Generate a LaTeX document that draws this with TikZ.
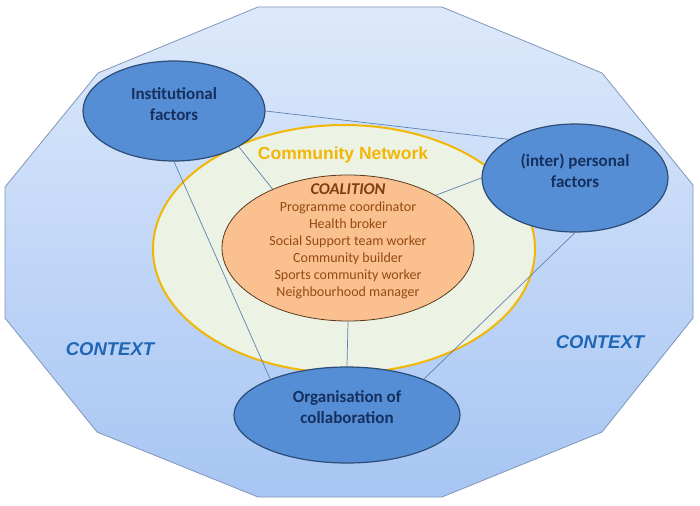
\documentclass[tikz,border=0pt]{standalone}
\usepackage{fontspec}
\setmainfont{Carlito}
\newfontfamily\arialfont{Liberation Sans}
\usetikzlibrary{shapes.geometric}
\definecolor{ctxtop}{HTML}{DDE9FB}
\definecolor{ctxbottom}{HTML}{A7C5F3}
\definecolor{ctxline}{HTML}{8096B8}
\definecolor{ctxtext}{HTML}{1F66B5}
\definecolor{netfill}{HTML}{ECF2E4}
\definecolor{netline}{HTML}{F2B705}
\definecolor{coalfill}{HTML}{FAC090}
\definecolor{coalline}{HTML}{5B3B1E}
\definecolor{coaltext}{HTML}{944A12}
\definecolor{factorblue}{HTML}{558ED5}
\definecolor{factorline}{HTML}{2C4D75}
\definecolor{factortext}{HTML}{16305E}
\definecolor{linkblue}{HTML}{5F82B2}

\begin{document}
\begin{tikzpicture}[x=1pt, y=-1pt,
    factor/.style={ellipse, draw=factorline, line width=1.2pt, fill=factorblue, inner sep=0pt},
    factortxt/.style={font=\fontsize{17}{21}\selectfont\bfseries, text=factortext, align=center},
    contexttxt/.style={font=\arialfont\fontsize{18.5}{22}\selectfont\bfseries\itshape, text=ctxtext},
    link/.style={draw=linkblue, line width=0.7pt}]
  \useasboundingbox (0,0) rectangle (700,505);
  % context polygon
  \shade[top color=ctxtop, bottom color=ctxbottom] (258,7) -- (442,7) -- (602,73) -- (693,185) -- (693,318) -- (602,432) -- (442,497) -- (258,497) -- (97,432) -- (5,318) -- (5,187) -- (98,73) -- cycle;
  \draw[ctxline, line width=0.8pt] (258,7) -- (442,7) -- (602,73) -- (693,185) -- (693,318) -- (602,432) -- (442,497) -- (258,497) -- (97,432) -- (5,318) -- (5,187) -- (98,73) -- cycle;
  \node[contexttxt] (ctxleft) at (110,349) {CONTEXT};
  \node[contexttxt] (ctxright) at (600,342) {CONTEXT};

  % community network and coalition
  \node[ellipse, draw=netline, line width=2pt, fill=netfill, minimum width=382, minimum height=248] (net) at (344,249) {};
  \node[font=\arialfont\fontsize{17.5}{21}\selectfont\bfseries, text=netline] (nettitle) at (343,155) {Community Network};

  % factors
  \node[factor, minimum width=182, minimum height=100] (inst) at (174,111) {};
  \node[factor, minimum width=186, minimum height=108] (inter) at (575,178) {};
  \node[factor, minimum width=226, minimum height=96] (org) at (347,415) {};

  \node[ellipse, draw=coalline, line width=0.8pt, fill=coalfill, minimum width=252, minimum height=146] (coal) at (348,248) {};

  % links
  \draw[link] (inst.east) -- (inter.north west);
  \draw[link] (inst.south east) -- (coal.142);
  \draw[link] (inst.south) -- (org.155);
  \draw[link] (inter.west) -- (coal.31);
  \draw[link] (inter.south) -- (org.25);
  \draw[link] (coal.south) -- (org.north);

  \node[font=\fontsize{16.5}{20}\selectfont\bfseries\itshape, text=coaltext!85!black] (coaltitle) at (348,189) {COALITION};
  \node[font=\fontsize{14}{17}\selectfont, text=coaltext, align=center] (roles) at (348,250.5) {Programme coordinator\\Health broker\\Social Support team worker\\Community builder\\Sports community worker\\Neighbourhood manager};

  \node[factortxt] (insttxt) at (174,104) {Institutional\\factors};
  \node[factortxt] (intertxt) at (575,171) {(inter) personal\\factors};
  \node[factortxt] (orgtxt) at (347,407) {Organisation of\\collaboration};
\end{tikzpicture}
\end{document}
